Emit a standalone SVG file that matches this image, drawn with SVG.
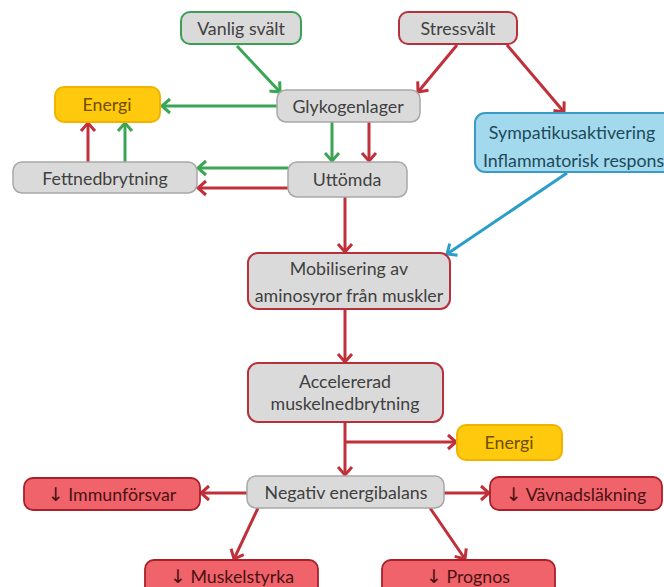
<svg xmlns="http://www.w3.org/2000/svg" width="664" height="587" viewBox="0 0 664 587">
<style>
text{font-family:Lato,"Open Sans","Liberation Sans",sans-serif;font-size:17.8px;fill:#404040;text-anchor:middle;dominant-baseline:central}
.ar{font-family:"DejaVu Sans",sans-serif;font-size:19px}
.gray{fill:#dadada;stroke:#a8a8a8;stroke-width:1.5}
.grayG{fill:#dadada;stroke:#3a9e55;stroke-width:2}
.grayR{fill:#dadada;stroke:#b8303a;stroke-width:2}
.yel{fill:#ffc90e;stroke:#f2b200;stroke-width:2}
.ytxt{fill:#6e4f00}
.blue{fill:#a3d9ec;stroke:#3a9cc4;stroke-width:2}
.btxt{fill:#1d4a5a}
.red{fill:#f0636b;stroke:#a8202a;stroke-width:1.8}
.rtxt{fill:#4a1212}
.cg{stroke:#3aa655;stroke-width:3;fill:none;marker-end:url(#ag)}
.cr{stroke:#c0303a;stroke-width:3;fill:none;marker-end:url(#ar)}
.cb{stroke:#2a9dc8;stroke-width:3;fill:none;marker-end:url(#ab)}
</style>
<defs>
<marker id="ag" markerUnits="userSpaceOnUse" markerWidth="14" markerHeight="18" viewBox="0 0 14 18" refX="11" refY="9" orient="auto"><path d="M3,2 L11,9 L3,16" fill="none" stroke="#3aa655" stroke-width="3"/></marker>
<marker id="ar" markerUnits="userSpaceOnUse" markerWidth="14" markerHeight="18" viewBox="0 0 14 18" refX="11" refY="9" orient="auto"><path d="M3,2 L11,9 L3,16" fill="none" stroke="#c0303a" stroke-width="3"/></marker>
<marker id="ab" markerUnits="userSpaceOnUse" markerWidth="14" markerHeight="18" viewBox="0 0 14 18" refX="11" refY="9" orient="auto"><path d="M3,2 L11,9 L3,16" fill="none" stroke="#2a9dc8" stroke-width="3"/></marker>
</defs>
<rect width="664" height="587" fill="#fff"/>
<g id="connectors">
<line class="cg" x1="237" y1="46" x2="280" y2="92"/>
<line class="cr" x1="457" y1="45" x2="418" y2="92"/>
<line class="cr" x1="507" y1="45" x2="564" y2="112"/>
<line class="cg" x1="277" y1="106" x2="162" y2="106"/>
<line class="cg" x1="332" y1="122" x2="332" y2="161"/>
<line class="cr" x1="369" y1="122" x2="369" y2="161"/>
<line class="cg" x1="288" y1="168" x2="198" y2="168"/>
<line class="cr" x1="288" y1="188" x2="198" y2="188"/>
<line class="cr" x1="88" y1="162" x2="88" y2="123"/>
<line class="cg" x1="125" y1="162" x2="125" y2="123"/>
<line class="cr" x1="345" y1="197" x2="345" y2="252"/>
<line class="cb" x1="567" y1="173" x2="447" y2="254"/>
<line class="cr" x1="345" y1="309" x2="345" y2="362"/>
<line class="cr" x1="345" y1="422" x2="345" y2="475"/>
<line class="cr" x1="345" y1="442" x2="456" y2="442"/>
<line class="cr" x1="247" y1="493" x2="201" y2="493"/>
<line class="cr" x1="444" y1="493" x2="489" y2="493"/>
<line class="cr" x1="258" y1="508" x2="234" y2="559"/>
<line class="cr" x1="430" y1="508" x2="465" y2="559"/>
</g>
<g id="vanlig"><rect class="grayG" x="181" y="12" width="120" height="32" rx="9"/><text x="241" y="28">Vanlig svält</text></g>
<g id="stress"><rect class="grayR" x="399" y="12" width="118" height="32" rx="9"/><text x="458" y="28">Stressvält</text></g>
<g id="glykogen"><rect class="gray" x="277" y="90" width="143" height="32" rx="9"/><text x="348" y="106">Glykogenlager</text></g>
<g id="energi1"><rect class="yel" x="55" y="87" width="105" height="35" rx="9"/><text class="ytxt" x="107" y="104">Energi</text></g>
<g id="fett"><rect class="gray" x="13" y="162" width="184" height="31" rx="9"/><text x="105" y="178">Fettnedbrytning</text></g>
<g id="uttomda"><rect class="gray" x="288" y="162" width="119" height="35" rx="9"/><text x="347" y="179">Uttömda</text></g>
<g id="sympatikus"><rect class="blue" x="475" y="113" width="200" height="59" rx="10"/><text class="btxt" x="572" y="132">Sympatikusaktivering</text><text class="btxt" x="483" y="160" style="text-anchor:start">Inflammatorisk respons</text></g>
<g id="mobilisering"><rect class="grayR" x="248" y="253" width="202" height="56" rx="10"/><text x="349" y="268">Mobilisering av</text><text x="349" y="295">aminosyror från muskler</text></g>
<g id="accelererad"><rect class="grayR" x="248" y="363" width="195" height="59" rx="10"/><text x="345" y="381">Accelererad</text><text x="345" y="403">muskelnedbrytning</text></g>
<g id="energi2"><rect class="yel" x="457" y="425" width="105" height="35" rx="9"/><text class="ytxt" x="509" y="442">Energi</text></g>
<g id="negativ"><rect class="gray" x="247" y="476" width="197" height="32" rx="9"/><text x="346" y="492">Negativ energibalans</text></g>
<g id="immun"><rect class="red" x="24" y="478" width="176" height="32" rx="9"/><text class="rtxt" x="112" y="494"><tspan class="ar">↓</tspan> Immunförsvar</text></g>
<g id="vavnad"><rect class="red" x="490" y="477" width="172" height="33" rx="9"/><text class="rtxt" x="576" y="494"><tspan class="ar">↓</tspan> Vävnadsläkning</text></g>
<g id="muskel"><rect class="red" x="145" y="560" width="173" height="36" rx="9"/><text class="rtxt" x="232" y="576"><tspan class="ar">↓</tspan> Muskelstyrka</text></g>
<g id="prognos"><rect class="red" x="382" y="560" width="173" height="36" rx="9"/><text class="rtxt" x="468" y="576"><tspan class="ar">↓</tspan> Prognos</text></g>
</svg>
